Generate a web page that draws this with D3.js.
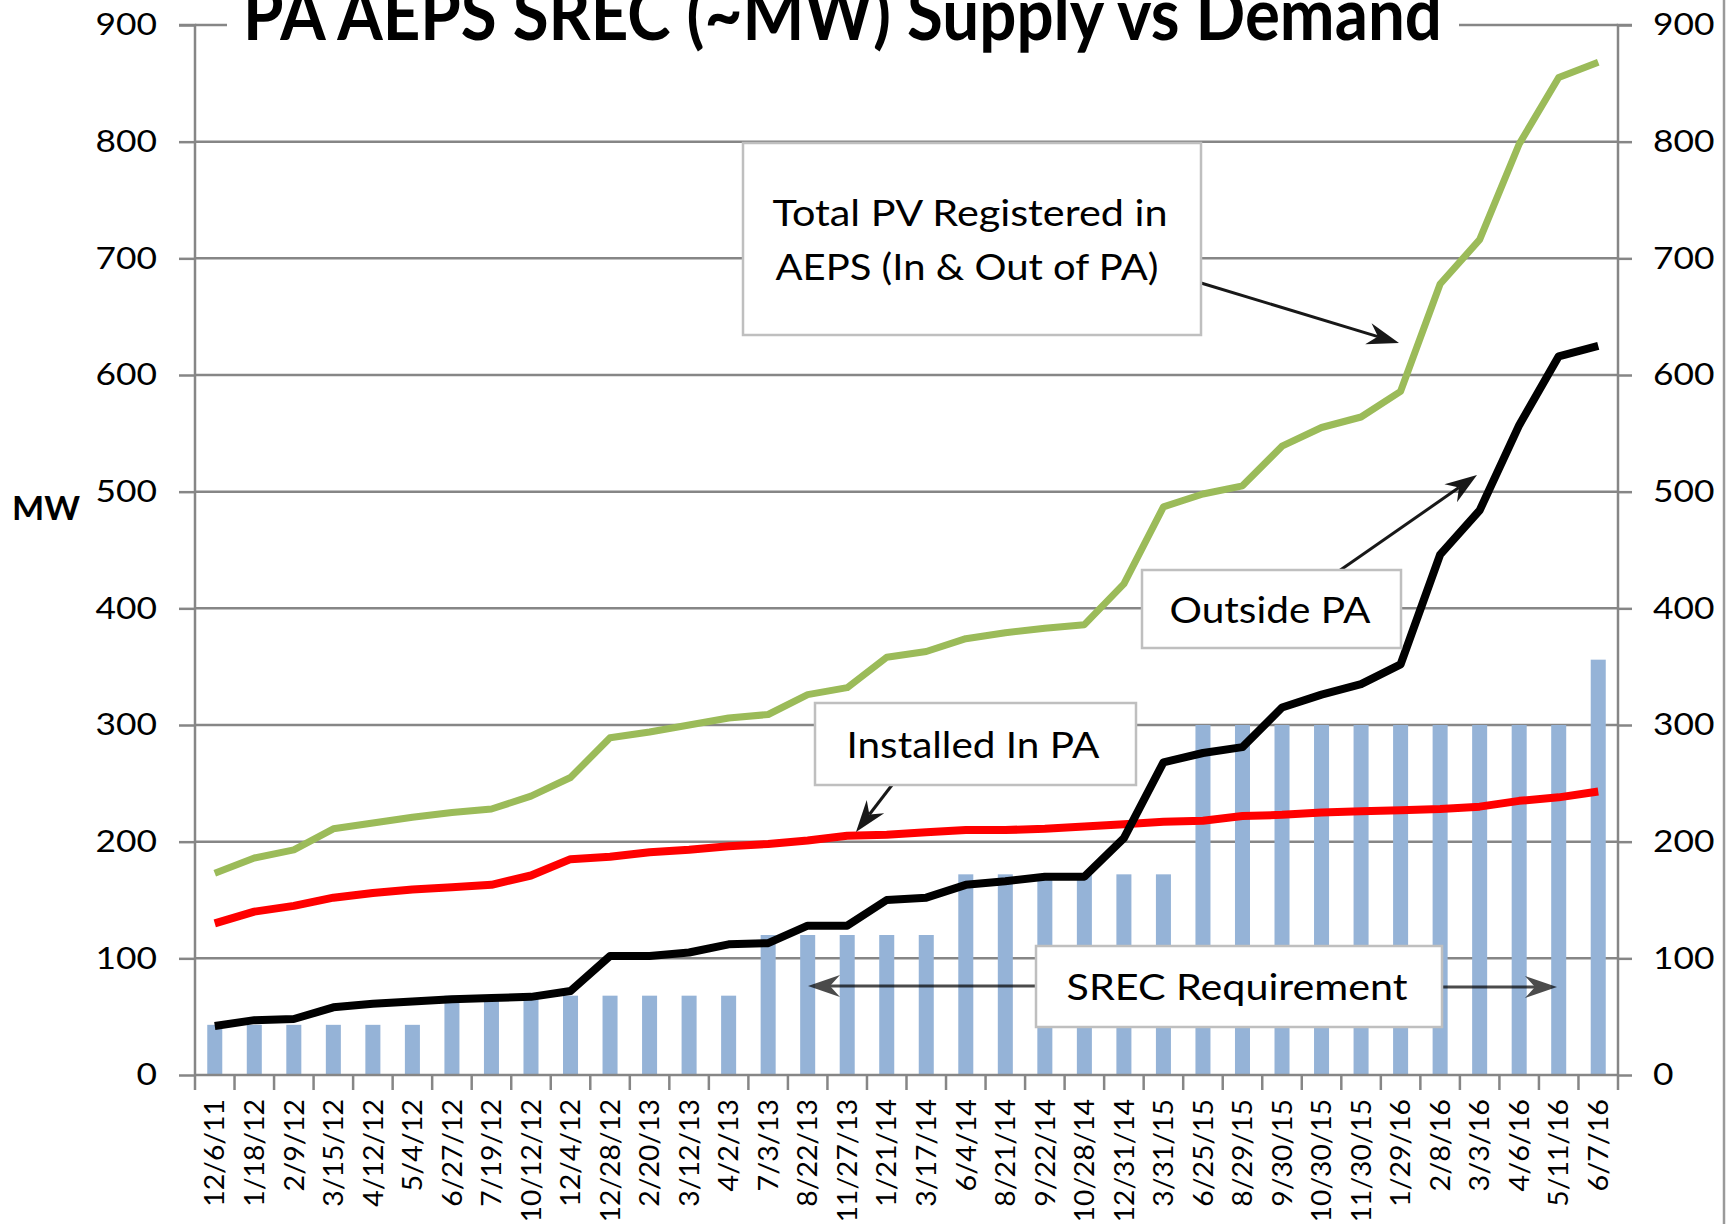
<!DOCTYPE html>
<html><head><meta charset="utf-8">
<script src="https://cdn.jsdelivr.net/npm/d3@7"></script>
<style>
html,body{margin:0;padding:0;background:#fff;}
svg{display:block;font-family:Lato,"Open Sans","Liberation Sans",sans-serif;}
</style>
</head><body>
<svg id="chart" width="1734" height="1224"></svg>
<script>
// ---------- data ----------
const categories = ["12/6/11","1/18/12","2/9/12","3/15/12","4/12/12","5/4/12","6/27/12","7/19/12","10/12/12","12/4/12","12/28/12","2/20/13","3/12/13","4/2/13","7/3/13","8/22/13","11/27/13","1/21/14","3/17/14","6/4/14","8/21/14","9/22/14","10/28/14","12/31/14","3/31/15","6/25/15","8/29/15","9/30/15","10/30/15","11/30/15","1/29/16","2/8/16","3/3/16","4/6/16","5/11/16","6/7/16"];
const srecRequirement = [43,43,43,43,43,43,68,68,68,68,68,68,68,68,120,120,120,120,120,172,172,172,172,172,172,300,300,300,300,300,300,300,300,300,300,356];
const totalPV = [173,186,193,211,216,221,225,228,239,255,289,294,300,306,309,326,332,358,363,374,379,383,386,421,487,498,505,539,555,564,586,678,716,798,855,868];
const installedPA = [130,140,145,152,156,159,161,163,171,185,187,191,193,196,198,201,205,206,208,210,210,211,213,215,217,218,222,223,225,226,227,228,230,235,238,243];
const outsidePA = [42,47,48,58,61,63,65,66,67,72,102,102,105,112,113,128,128,150,152,163,166,170,170,203,268,276,281,315,326,335,352,446,484,557,616,625];
const yTicks = [0,100,200,300,400,500,600,700,800,900];
const titleText = "PA AEPS SREC (~MW) Supply vs Demand";
const yAxisLabel = "MW";

// ---------- layout ----------
const svg = d3.select("#chart");
const L = 195, R = 1618, T = 25, B = 1075;
const GRID = "#868686";

const x = d3.scaleBand().domain(categories).range([L, R]).padding(0);
const y = d3.scaleLinear().domain([0, 900]).range([B, T]);
const cx = c => x(c) + x.bandwidth() / 2;

// gridlines
svg.append("g").selectAll("line").data(yTicks.filter(d => d > 0)).join("line")
  .attr("x1", L).attr("x2", R).attr("y1", d => y(d)).attr("y2", d => y(d))
  .attr("stroke", GRID).attr("stroke-width", 2.5);

// bars
const barW = x.bandwidth() * 0.38;
svg.append("g").selectAll("rect").data(categories).join("rect")
  .attr("x", (c) => cx(c) - barW / 2)
  .attr("width", barW)
  .attr("y", (c, i) => y(srecRequirement[i]))
  .attr("height", (c, i) => B - y(srecRequirement[i]))
  .attr("fill", "#95B3D7");

// lines
const line = d3.line().x((d, i) => cx(categories[i])).y(d => y(d)).curve(d3.curveLinear);
const series = [
  {v: totalPV, color: "#9BBB59", w: 7},
  {v: installedPA, color: "#FF0000", w: 8},
  {v: outsidePA, color: "#000000", w: 8}
];
svg.append("g").selectAll("path").data(series).join("path")
  .attr("d", s => line(s.v))
  .attr("fill", "none").attr("stroke", s => s.color).attr("stroke-width", s => s.w)
  .attr("stroke-linejoin", "round").attr("stroke-linecap", "butt");

// left axis
const yAxisL = d3.axisLeft(y).tickValues(yTicks).tickSize(16).tickPadding(22);
const gL = svg.append("g").attr("transform", `translate(${L},0)`).call(yAxisL);
gL.select(".domain").attr("stroke", GRID).attr("stroke-width", 2.5).attr("d", `M-16,${T}H0V${B}`);
gL.selectAll(".tick line").attr("stroke", GRID).attr("stroke-width", 2.5);
gL.selectAll(".tick text").attr("font-size", 31).attr("fill", "#000")
  .attr("font-family", "Lato, sans-serif")
  .attr("textLength", d => String(d).length * 20.5).attr("lengthAdjust", "spacingAndGlyphs");

// right axis
const yAxisR = d3.axisRight(y).tickValues(yTicks).tickSize(14).tickPadding(21);
const gR = svg.append("g").attr("transform", `translate(${R},0)`).call(yAxisR);
gR.select(".domain").attr("stroke", GRID).attr("stroke-width", 2.5).attr("d", `M14,${T}H0V${B}`);
gR.selectAll(".tick line").attr("stroke", GRID).attr("stroke-width", 2.5);
gR.selectAll(".tick text").attr("font-size", 31).attr("fill", "#000")
  .attr("font-family", "Lato, sans-serif")
  .attr("textLength", d => String(d).length * 20.5).attr("lengthAdjust", "spacingAndGlyphs");

// bottom axis
const xAxis = d3.axisBottom(x).tickSize(0).tickPadding(0);
const gX = svg.append("g").attr("transform", `translate(0,${B})`).call(xAxis);
gX.select(".domain").attr("stroke", GRID).attr("stroke-width", 2.5).attr("d", `M${L},0H${R}`);
gX.selectAll(".tick text")
  .attr("transform", "rotate(-90)")
  .attr("x", -24).attr("y", 0).attr("dy", "0.36em")
  .style("text-anchor", "end")
  .attr("font-size", 27).attr("fill", "#000").attr("font-family", "Lato, sans-serif")
  .attr("textLength", d => d.length * 15.4).attr("lengthAdjust", "spacingAndGlyphs");
const bounds = categories.map(c => x(c)).concat([R]);
svg.append("g").selectAll("line").data(bounds).join("line")
  .attr("x1", d => d).attr("x2", d => d).attr("y1", B).attr("y2", B + 15)
  .attr("stroke", GRID).attr("stroke-width", 2.5);

// right chart border
svg.append("line").attr("x1", 1724).attr("x2", 1724).attr("y1", 0).attr("y2", 1224)
  .attr("stroke", "#9a9a9a").attr("stroke-width", 2.5);

// title
svg.append("rect").attr("x", 227).attr("y", 0).attr("width", 1459 - 227).attr("height", 60).attr("fill", "#fff");
svg.append("text").attr("x", 243).attr("y", 40).text(titleText)
  .attr("font-size", 72).attr("font-weight", "bold").attr("fill", "#000")
  .attr("textLength", 1199).attr("lengthAdjust", "spacingAndGlyphs");

// y axis label
svg.append("text").attr("x", 12).attr("y", 520).text(yAxisLabel)
  .attr("font-size", 33).attr("font-weight", "bold").attr("fill", "#000")
  .attr("textLength", 68).attr("lengthAdjust", "spacingAndGlyphs");

// ---------- annotations ----------
function arrow(x1, y1, x2, y2, color, op) {
  const dx = x2 - x1, dy = y2 - y1, len = Math.hypot(dx, dy);
  const ux = dx / len, uy = dy / len, px = -uy, py = ux;
  const back = 32, half = 11, notch = 22;
  const g = svg.append("g").attr("opacity", op);
  g.append("line").attr("x1", x1).attr("y1", y1)
    .attr("x2", x2 - ux * notch).attr("y2", y2 - uy * notch)
    .attr("stroke", color).attr("stroke-width", 3);
  const p = [
    [x2, y2],
    [x2 - ux * back + px * half, y2 - uy * back + py * half],
    [x2 - ux * notch, y2 - uy * notch],
    [x2 - ux * back - px * half, y2 - uy * back - py * half]
  ];
  g.append("path").attr("d", "M" + p.map(q => q.join(",")).join("L") + "Z").attr("fill", color);
}

function box(x0, y0, x1, y1) {
  svg.append("rect").attr("x", x0).attr("y", y0).attr("width", x1 - x0).attr("height", y1 - y0)
    .attr("fill", "#fff").attr("stroke", "#BFBFBF").attr("stroke-width", 2.5);
}
function label(txt, xc, yb, w) {
  svg.append("text").attr("x", xc).attr("y", yb).text(txt)
    .attr("text-anchor", "middle").attr("font-size", 37).attr("fill", "#000")
    .attr("textLength", w).attr("lengthAdjust", "spacingAndGlyphs");
}

// Total PV
arrow(1201, 283, 1399, 343, "#000", 0.9);
box(743, 143, 1201, 335);
label("Total PV Registered in", 970, 226, 395);
label("AEPS (In & Out of PA)", 967, 280, 383);

// Installed In PA
arrow(892, 785, 856, 832, "#000", 0.9);
box(815, 703, 1136, 785);
label("Installed In PA", 973, 758, 253);

// Outside PA
arrow(1339, 571, 1477, 475, "#000", 0.9);
box(1142, 570, 1401, 648);
label("Outside PA", 1270, 623, 201);

// SREC Requirement
arrow(1036, 986, 808, 986, "#000", 0.7);
arrow(1442, 987, 1557, 987, "#000", 0.7);
box(1036, 946, 1442, 1027);
label("SREC Requirement", 1237, 1000, 341);
</script>
</body></html>
